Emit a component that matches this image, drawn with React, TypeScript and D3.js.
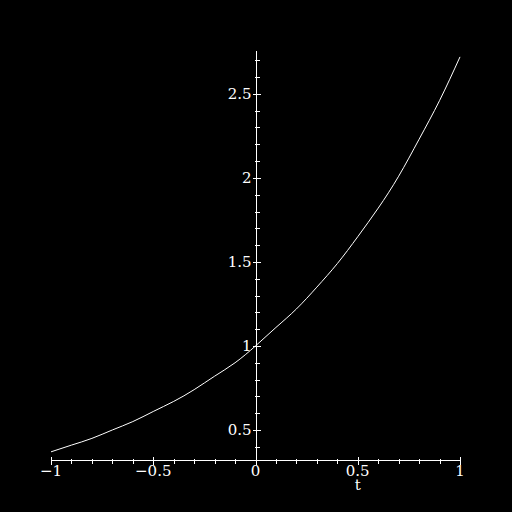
import * as d3 from "d3";

const WIDTH = 512;
const HEIGHT = 512;

// plot area corners (pixel) – axes drawn at the bottom / at t = 0
const X_RANGE = [51, 460];
const Y_RANGE = [460, 51];

// view of the data
const T_DOMAIN = [-1, 1];
const Y_DOMAIN = [0.3214, 2.755];

// curve samples
const tValues = [-1, -0.9, -0.8, -0.7, -0.6, -0.5, -0.4, -0.3, -0.2, -0.1, 0, 0.1, 0.2, 0.3, 0.4, 0.5, 0.6, 0.7, 0.8, 0.9, 1];
const yValues = [0.37, 0.41, 0.45, 0.5, 0.55, 0.61, 0.67, 0.74, 0.82, 0.9, 1.0, 1.11, 1.22, 1.35, 1.49, 1.65, 1.82, 2.01, 2.23, 2.46, 2.72];

// ticks
const xMajorTicks = [-1, -0.5, 0, 0.5, 1];
const xTickLabels = ["\u22121", "\u22120.5", "0", "0.5", "1"];
const yMajorTicks = [0.5, 1, 1.5, 2, 2.5];
const yTickLabels = ["0.5", "1", "1.5", "2", "2.5"];
const xAxisLabel = "t";

const FONT = "'DejaVu Serif', serif";

export default function App() {
  const xScale = d3.scaleLinear().domain(T_DOMAIN).range(X_RANGE);
  const yScale = d3.scaleLinear().domain(Y_DOMAIN).range(Y_RANGE);

  const points: [number, number][] = tValues.map((t, i) => [t, yValues[i]]);
  const line = d3
    .line<[number, number]>()
    .x((d) => xScale(d[0]))
    .y((d) => yScale(d[1]))
    .curve(d3.curveNatural);

  // minor ticks every 0.1
  const xMinor = d3.range(-10, 11).map((k) => k / 10).filter((v) => !xMajorTicks.some((m) => Math.abs(m - v) < 1e-9));
  const yMinor = d3.range(4, 28).map((k) => k / 10).filter((v) => !yMajorTicks.some((m) => Math.abs(m - v) < 1e-9));

  const x0 = Math.round(xScale(0)) + 0.5;
  const yAxis = Math.round(yScale(Y_DOMAIN[0])) + 0.5;

  return (
    <svg
      width={WIDTH}
      height={HEIGHT}
      style={{ position: "absolute", left: 0, top: 0, display: "block", background: "#000" }}
    >
      <rect x={0} y={0} width={WIDTH} height={HEIGHT} fill="#000" />

      <g stroke="#fff" strokeWidth={1} shapeRendering="crispEdges">
        {/* horizontal axis */}
        <line x1={xScale(T_DOMAIN[0])} x2={xScale(T_DOMAIN[1])} y1={yAxis} y2={yAxis} />
        {/* vertical axis */}
        <line x1={x0} x2={x0} y1={yScale(Y_DOMAIN[0])} y2={yScale(Y_DOMAIN[1])} />

        {xMajorTicks.map((v, i) => {
          const x = Math.round(xScale(v)) + 0.5;
          return <line key={"xM" + i} x1={x} x2={x} y1={yAxis - 4} y2={yAxis + 4} />;
        })}
        {xMinor.map((v, i) => {
          const x = Math.round(xScale(v)) + 0.5;
          return <line key={"xm" + i} x1={x} x2={x} y1={yAxis - 2} y2={yAxis + 3} />;
        })}
        {yMajorTicks.map((v, i) => {
          const y = Math.round(yScale(v)) + 0.5;
          return <line key={"yM" + i} x1={x0 - 4} x2={x0 + 4} y1={y} y2={y} />;
        })}
        {yMinor.map((v, i) => {
          const y = Math.round(yScale(v)) + 0.5;
          return <line key={"ym" + i} x1={x0 - 2} x2={x0 + 3} y1={y} y2={y} />;
        })}
      </g>

      <path d={line(points) || ""} fill="none" stroke="#fff" strokeWidth={1} />

      <g fill="#fff" fontFamily={FONT} fontSize={15}>
        {xMajorTicks.map((v, i) => (
          <text key={"xl" + i} x={xScale(v)} y={476} textAnchor="middle">
            {xTickLabels[i]}
          </text>
        ))}
        {yMajorTicks.map((v, i) => (
          <text key={"yl" + i} x={x0 - 5} y={yScale(v) + 5.5} textAnchor="end">
            {yTickLabels[i]}
          </text>
        ))}
        <text x={xScale(0.5)} y={490} textAnchor="middle">
          {xAxisLabel}
        </text>
      </g>
    </svg>
  );
}
